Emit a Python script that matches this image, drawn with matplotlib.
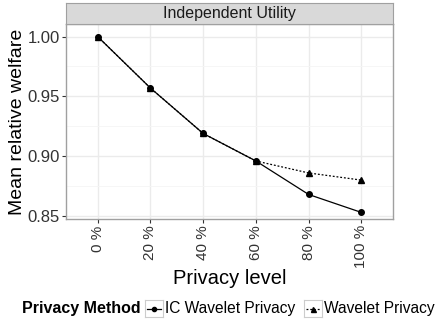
import matplotlib
matplotlib.use("Agg")
import matplotlib.pyplot as plt
from matplotlib.lines import Line2D
from matplotlib.ticker import MultipleLocator

plt.rcParams['font.family'] = ['Liberation Sans', 'DejaVu Sans']

levels = ['0 %', '20 %', '40 %', '60 %', '80 %', '100 %']
ic_wavelet = [1.000, 0.957, 0.919, 0.896, 0.868, 0.853]
wavelet = [1.000, 0.957, 0.919, 0.896, 0.886, 0.880]
panel_title = 'Independent Utility'
legend_title = 'Privacy Method'
series_names = ['IC Wavelet Privacy', 'Wavelet Privacy']

W, H = 438, 325
fig = plt.figure(figsize=(W / 100, H / 100), dpi=100)
ax = fig.add_axes([66 / W, 1 - 219 / H, (393 - 66) / W, (219 - 24) / H])

dotted = (0, (1.5, 1.5))
x = list(range(len(levels)))
ax.plot(x, ic_wavelet, color='black', lw=0.9, ls='-', marker='o', ms=4, zorder=3)
ax.plot(x, wavelet, color='black', lw=0.9, ls=dotted, marker='^', ms=4.8, zorder=3)

ax.set_xlim(-0.6, len(levels) - 0.4)
ax.set_ylim(0.8475, 1.0105)
ax.set_xticks(x)
ax.set_xticklabels(levels, rotation=90, fontsize=11, color='#333333')
ax.yaxis.set_minor_locator(MultipleLocator(0.025))
ax.set_yticks([0.85, 0.90, 0.95, 1.00])
ax.set_yticklabels(['0.85', '0.90', '0.95', '1.00'], fontsize=12, color='#333333')
ax.grid(True, which='major', color='#EBEBEB', lw=1.0)
ax.grid(True, which='minor', color='#F5F5F5', lw=0.6)
ax.tick_params(axis='y', which='minor', length=0)
ax.tick_params(which='major', length=3, color='#333333', width=0.8, pad=1.5)
ax.set_axisbelow(True)
for s in ax.spines.values():
    s.set_color('#A0A0A0')
    s.set_linewidth(1.0)

ax.set_xlabel('Privacy level', fontsize=14.5, labelpad=0)
ax.set_ylabel('Mean relative welfare', fontsize=14, labelpad=1)

# facet strip
strip = fig.add_axes([66 / W, 1 - 24 / H, (393 - 66) / W, 21 / H])
strip.set_facecolor('#D9D9D9')
strip.set_xticks([])
strip.set_yticks([])
for s in strip.spines.values():
    s.set_color('#A0A0A0')
strip.text(0.5, 0.48, panel_title, ha='center', va='center', fontsize=11.5, color='#1A1A1A')

# legend at bottom, built by hand
ly = 308
fig.text(22 / W, 1 - ly / H, legend_title, fontsize=11.5, fontweight='bold',
         ha='left', va='center')
key_styles = [('-', 'o', 3), (dotted, '^', 3.6)]
key_left = [145, 304]
for (ls, mk, ms), kx, name in zip(key_styles, key_left, series_names):
    kax = fig.add_axes([kx / W, 1 - 317 / H, 18 / W, 17 / H])
    kax.set_xlim(0, 1)
    kax.set_ylim(0, 1)
    kax.set_xticks([])
    kax.set_yticks([])
    for s in kax.spines.values():
        s.set_color('#CCCCCC')
        s.set_linewidth(0.8)
    kax.add_line(Line2D([0.1, 0.9], [0.5, 0.5], color='black', lw=0.9, ls=ls))
    kax.plot([0.5], [0.5], color='black', marker=mk, ms=ms)
    fig.text((kx + 20) / W, 1 - ly / H, name, fontsize=11.2, ha='left', va='center')

fig.savefig('out.png', dpi=100)
